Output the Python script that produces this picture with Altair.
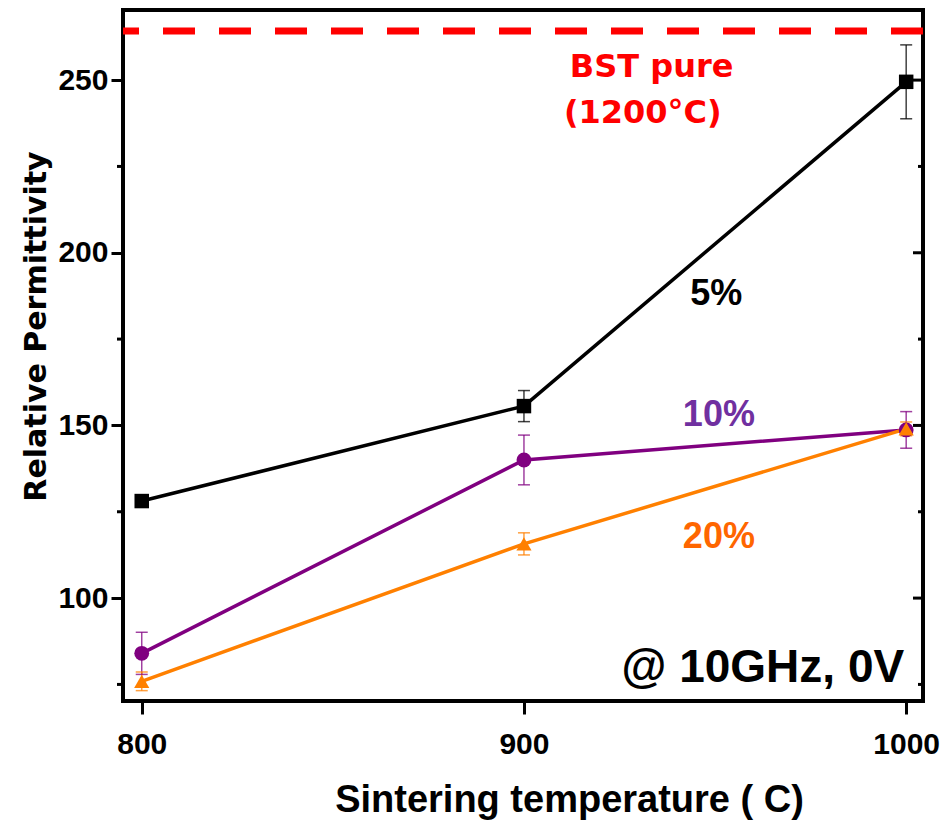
import altair as alt
import pandas as pd

# ---- data ----
temps = [800, 900, 1000]
series_names = ["5%", "10%", "20%"]
perm_5 = [128.1, 155.6, 249.5]
err_5 = [1.0, 4.5, 10.7]
perm_10 = [84.0, 140.0, 148.7]
err_10 = [6.1, 7.2, 5.3]
perm_20 = [75.9, 115.7, 149.0]
err_20 = [2.7, 3.2, 2.0]
bst_pure_level = [264.2]
y_major = [100, 150, 200, 250]
y_minor = [75, 125, 175, 225]
x_ticks = [800, 900, 1000]

line_colors = ["#000000", "#800080", "#FF8000"]
shapes = ["square", "circle", "triangle-up"]
marker_sizes = [210, 230, 300]

rows = []
for name, vals, errs in [("5%", perm_5, err_5), ("10%", perm_10, err_10), ("20%", perm_20, err_20)]:
    for t, v, e in zip(temps, vals, errs):
        rows.append({"temp": t, "series": name, "value": v, "lo": v - e, "hi": v + e})
df = pd.DataFrame(rows)

xscale = alt.Scale(domain=[795.1, 1004.4], nice=False, zero=False)
yscale = alt.Scale(domain=[70.2, 270.3], nice=False, zero=False)
color = alt.Color("series:N", scale=alt.Scale(domain=series_names, range=line_colors), legend=None)
shape = alt.Shape("series:N", scale=alt.Scale(domain=series_names, range=shapes), legend=None)
size = alt.Size("series:N", scale=alt.Scale(domain=series_names, range=marker_sizes), legend=None)

xaxis = alt.Axis(values=x_ticks, format="d", tickSize=13, tickWidth=3, tickColor="black",
                 domain=False, grid=False, labelFont="Liberation Sans", labelFontWeight="bold",
                 labelFontSize=30, labelColor="black", labelBaseline="alphabetic", labelPadding=39,
                 title="Sintering temperature ( C)", titleFont="Liberation Sans", titleFontWeight="bold",
                 titleFontSize=38, titleColor="black", titleX=446, titleY=110,
                 titleBaseline="alphabetic", titleAlign="center", titleAnchor="start")
yaxis = alt.Axis(values=y_major, tickSize=12, tickWidth=3, tickColor="black", domain=False, grid=False,
                 labelFont="Liberation Sans", labelFontWeight="bold", labelFontSize=30,
                 labelColor="black", labelPadding=3,
                 title="Relative Permittivity", titleFont="DejaVu Sans", titleFontWeight="bold",
                 titleFontSize=30, titleColor="black", titleX=-87, titleY=316, titleAngle=-90,
                 titleBaseline="middle", titleAlign="center", titleAnchor="start")

X = alt.X("temp:Q", scale=xscale, axis=xaxis)
base = alt.Chart(df)

lines = base.mark_line(strokeWidth=3.5).encode(x=X, y=alt.Y("value:Q", scale=yscale, axis=yaxis), color=color, detail="series:N")
ebars = base.mark_rule(strokeWidth=1.5, opacity=0.75).encode(x=X, y=alt.Y("lo:Q", scale=yscale, axis=yaxis), y2="hi:Q", color=color)
caps_lo = base.mark_tick(orient="horizontal", size=12, thickness=1.5, opacity=0.75).encode(
    x=X, y=alt.Y("lo:Q", scale=yscale, axis=yaxis), color=color)
caps_hi = base.mark_tick(orient="horizontal", size=12, thickness=1.5, opacity=0.75).encode(
    x=X, y=alt.Y("hi:Q", scale=yscale, axis=yaxis), color=color)
points = base.mark_point(filled=True, opacity=1).encode(
    x=X, y=alt.Y("value:Q", scale=yscale, axis=yaxis), color=color, shape=shape, size=size)

ref = alt.Chart(pd.DataFrame({"value": bst_pure_level})).mark_rule(
    color="#FF0000", strokeWidth=7, strokeDash=[32, 24]).encode(y=alt.Y("value:Q", scale=yscale, axis=yaxis))

minor_df = pd.DataFrame({"value": y_minor})
major_df = pd.DataFrame({"value": y_major})
left_minor = alt.Chart(minor_df).mark_rule(color="black", strokeWidth=3).encode(
    y=alt.Y("value:Q", scale=yscale, axis=yaxis), x=alt.value(-6), x2=alt.value(0))
right_minor = alt.Chart(minor_df).mark_rule(color="black", strokeWidth=3).encode(
    y=alt.Y("value:Q", scale=yscale, axis=yaxis), x=alt.value(795), x2=alt.value(800))
right_major = alt.Chart(major_df).mark_rule(color="black", strokeWidth=3).encode(
    y=alt.Y("value:Q", scale=yscale, axis=yaxis), x=alt.value(790), x2=alt.value(800))


def note(text, xv, yv, col, fsize, font="Liberation Sans"):
    return alt.Chart(pd.DataFrame({"t": [text]})).mark_text(
        font=font, fontWeight="bold", fontSize=fsize, color=col, align="center", baseline="alphabetic"
    ).encode(x=alt.datum(xv, scale=xscale), y=alt.datum(yv, scale=yscale), text="t:N")


texts = [
    note("BST pure", 933.4, 250.9, "#FF0000", 32, "DejaVu Sans"),
    note("(1200°C)", 931.1, 237.6, "#FF0000", 32, "DejaVu Sans"),
    note("5%", 950.3, 184.9, "#000000", 36),
    note("10%", 951.0, 149.8, "#7030A0", 36),
    note("20%", 951.0, 114.5, "#FF6600", 36),
    note("@ 10GHz, 0V", 962.5, 75.7, "#000000", 46),
]

chart = alt.layer(ref, lines, ebars, caps_lo, caps_hi, points, left_minor, right_minor, right_major, *texts).properties(
    width=800, height=691, autosize="none",
    padding={"left": 123, "top": 10, "right": 28, "bottom": 120},
    background="white",
).configure_view(stroke="black", strokeWidth=4)

chart.save("out.html", embed_options={"renderer": "svg", "actions": False})
